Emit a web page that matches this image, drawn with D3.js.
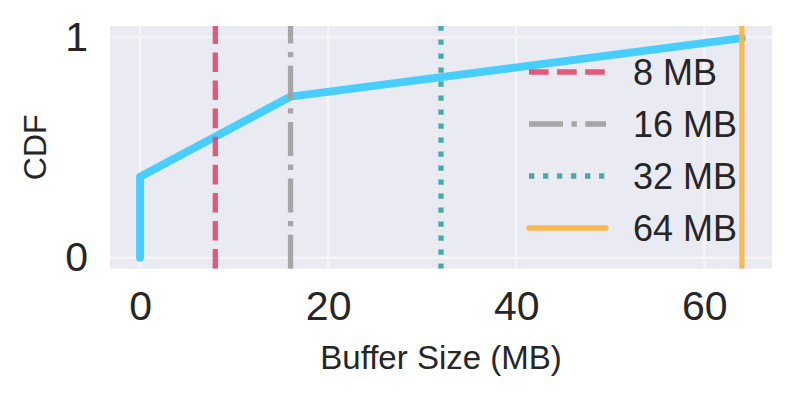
<!DOCTYPE html>
<html>
<head>
<meta charset="utf-8">
<script src="https://cdn.jsdelivr.net/npm/d3@7"></script>
<style>
  html, body { margin: 0; padding: 0; background: #ffffff; }
  svg { display: block; }
  text { font-family: "Liberation Sans", Arial, Helvetica, sans-serif; fill: #262626; }
</style>
</head>
<body>
<svg id="chart" width="794" height="395"></svg>
<script>
// ---- data ----
const cdfX = [0, 0, 16, 64];
const cdfY = [0, 0.367, 0.73, 0.995];
const bufferSizes = [8, 16, 32, 64];
const bufferLabels = ["8 MB", "16 MB", "32 MB", "64 MB"];
const bufferColors = ["#E1496D", "#9E9E9E", "#3AA0A0", "#F9B53C"];
const bufferDashes = ["19.6,8.5", "34,8.5,5.3,8.5", "5.3,8.7", null];
const xTicks = [0, 20, 40, 60];
const yTicks = [0, 1];
const xLabel = "Buffer Size (MB)";
const yLabel = "CDF";

// ---- layout ----
const W = 794, H = 395;
const m = { left: 110, right: 772, top: 26, bottom: 268.7 };
const svg = d3.select("#chart");

const x = d3.scaleLinear().domain([-3.2, 67.2]).range([m.left, m.right]);
const y = d3.scaleLinear().domain([-0.05, 1.05]).range([m.bottom, m.top]);

// background
svg.append("rect").attr("x", m.left).attr("y", m.top)
  .attr("width", m.right - m.left).attr("height", m.bottom - m.top)
  .attr("fill", "#EAEAF2");

// grid
const grid = svg.append("g");
grid.selectAll("line.gx").data(xTicks).enter().append("line")
  .attr("x1", d => x(d)).attr("x2", d => x(d))
  .attr("y1", m.top).attr("y2", m.bottom)
  .attr("stroke", "#F5F5F8").attr("stroke-width", 2.5);
grid.selectAll("line.gy").data(yTicks).enter().append("line")
  .attr("x1", m.left).attr("x2", m.right)
  .attr("y1", d => y(d)).attr("y2", d => y(d))
  .attr("stroke", "#F5F5F8").attr("stroke-width", 2.5);

// axes (no domain line, no tick marks)
const xAxis = svg.append("g").attr("transform", `translate(0,${m.bottom})`)
  .call(d3.axisBottom(x).tickValues(xTicks).tickSize(0).tickPadding(22).tickFormat(d3.format("d")));
xAxis.select(".domain").remove();
xAxis.selectAll("text").attr("font-size", 41).attr("fill", "#262626")
  .style("font-family", '"Liberation Sans", Arial, sans-serif');

const yAxis = svg.append("g").attr("transform", `translate(${m.left},0)`)
  .call(d3.axisLeft(y).tickValues(yTicks).tickSize(0).tickPadding(22).tickFormat(d3.format("d")));
yAxis.select(".domain").remove();
yAxis.selectAll("text").attr("font-size", 41).attr("fill", "#262626")
  .style("font-family", '"Liberation Sans", Arial, sans-serif');

// labels
svg.append("text").attr("x", (m.left + m.right) / 2).attr("y", 369)
  .attr("text-anchor", "middle").attr("font-size", 33).text(xLabel);
svg.append("text").attr("transform", `translate(46,${(m.top + m.bottom) / 2}) rotate(-90)`)
  .attr("text-anchor", "middle").attr("font-size", 32).text(yLabel);

// clip
svg.append("clipPath").attr("id", "clip").append("rect")
  .attr("x", m.left).attr("y", m.top).attr("width", m.right - m.left).attr("height", m.bottom - m.top);

// CDF line
const pts = cdfX.map((v, i) => [v, cdfY[i]]);
svg.append("path").datum(pts)
  .attr("d", d3.line().x(d => x(d[0])).y(d => y(d[1])))
  .attr("fill", "none").attr("stroke", "#48CEFD").attr("stroke-width", 8)
  .attr("stroke-linecap", "round").attr("stroke-linejoin", "round");

// vertical lines
svg.append("g").attr("clip-path", "url(#clip)")
  .selectAll("line").data(bufferSizes).enter().append("line")
  .attr("x1", d => x(d)).attr("x2", d => x(d))
  .attr("y1", m.bottom).attr("y2", m.top)
  .attr("stroke", (d, i) => bufferColors[i]).attr("stroke-width", 5.3)
  .attr("stroke-opacity", 0.9)
  .attr("stroke-dasharray", (d, i) => bufferDashes[i]);

// legend
const lg = svg.append("g");
const rows = lg.selectAll("g").data(bufferSizes).enter().append("g")
  .attr("transform", (d, i) => `translate(0,${72 + i * 52})`);
rows.append("line").attr("x1", 529).attr("x2", 606).attr("y1", 0).attr("y2", 0)
  .attr("stroke", (d, i) => bufferColors[i]).attr("stroke-width", 5.3)
  .attr("stroke-opacity", 0.9)
  .attr("stroke-linecap", (d, i) => bufferDashes[i] ? "butt" : "round")
  .attr("stroke-dasharray", (d, i) => bufferDashes[i]);
rows.append("text").attr("x", 633).attr("y", 0).attr("dy", "0.36em")
  .attr("font-size", 36).text((d, i) => bufferLabels[i]);
</script>
</body>
</html>
